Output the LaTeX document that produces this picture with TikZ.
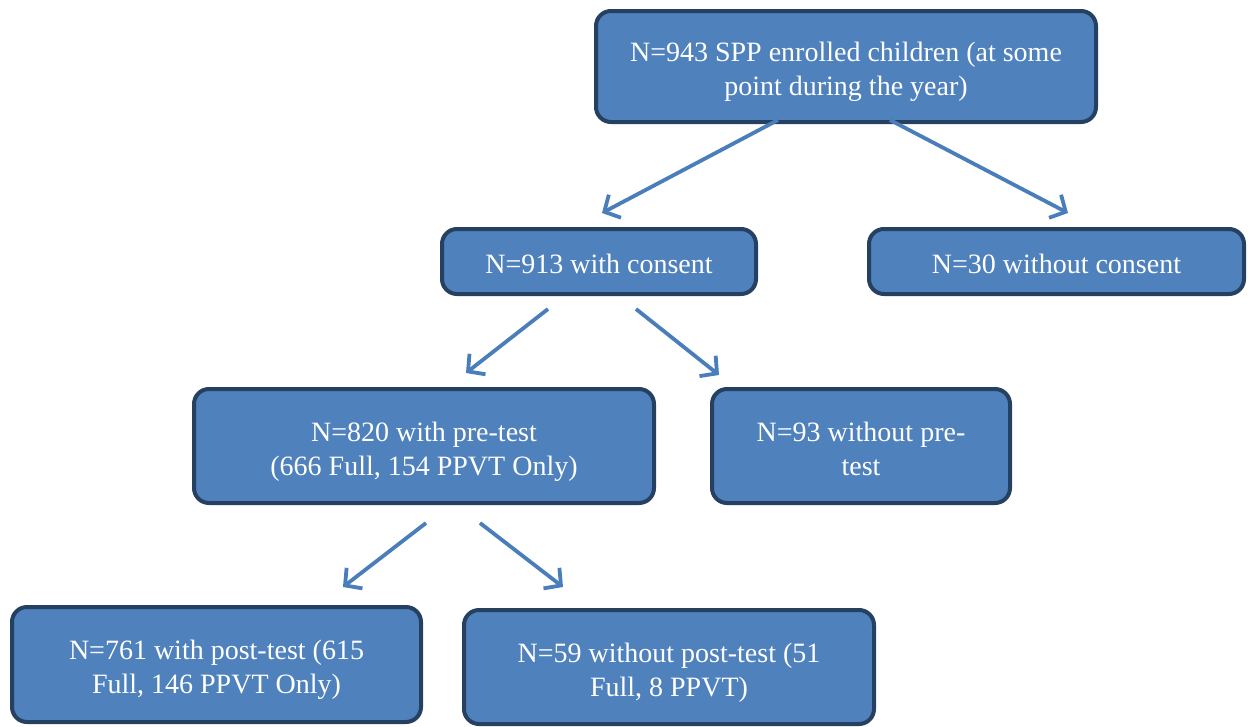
\documentclass[tikz,border=0pt]{standalone}
\usepackage{fontspec}
\setmainfont{Liberation Serif}
\usetikzlibrary{arrows.meta}
\definecolor{boxtop}{RGB}{79,129,189}
\definecolor{boxmid}{RGB}{67,136,191}
\definecolor{boxline}{RGB}{38,64,98}
\definecolor{arrowcol}{RGB}{74,126,187}
\newcommand\myupstrut{\rule{0pt}{32pt}}
\newcommand\mydownstrut{\rule[-8pt]{0pt}{8pt}}
\newcommand\mysinglestrut{\rule{0pt}{24pt}}
\begin{document}
\begin{tikzpicture}[x=1pt,y=-1pt,
  flowbox/.style={draw=boxline, line width=4pt, rounded corners=15pt,
    top color=boxtop, middle color=boxmid, bottom color=boxtop,
    text=white, align=center, inner sep=0pt,
    font=\fontsize{28}{34}\selectfont},
  arr/.style={draw=arrowcol, line width=3.8pt,
    -{Straight Barb[length=12pt,width=26pt,line width=3.8pt]}}]
\useasboundingbox (0,0) rectangle (1248,726);
\node[flowbox, minimum width=500pt, minimum height=111pt] (top) at (846,66.5)
  {\myupstrut N=943 SPP enrolled children (at some\\point during the year)\mydownstrut};
\node[flowbox, minimum width=314pt, minimum height=65pt] (cons) at (599,261.5)
  {\mysinglestrut N=913 with consent};
\node[flowbox, minimum width=375pt, minimum height=65pt] (nocons) at (1056.5,261.5)
  {\mysinglestrut N=30 without consent};
\node[flowbox, minimum width=460pt, minimum height=114pt] (pre) at (424,446)
  {\myupstrut N=820 with pre-test\\(666 Full, 154 PPVT Only)\mydownstrut};
\node[flowbox, minimum width=298pt, minimum height=114pt] (nopre) at (861,446)
  {\myupstrut N=93 without pre-\\test\mydownstrut};
\node[flowbox, minimum width=409pt, minimum height=115pt] (post) at (216.5,664.5)
  {\myupstrut N=761 with post-test (615\\Full, 146 PPVT Only)\mydownstrut};
\node[flowbox, minimum width=410pt, minimum height=114pt] (nopost) at (669,667)
  {\myupstrut N=59 without post-test (51\\Full, 8 PPVT)\mydownstrut};
\coordinate (a1s) at (778,120);
\coordinate (a1e) at (602,213);
\coordinate (a2s) at (890,120);
\coordinate (a2e) at (1068,213);
\coordinate (a3s) at (548,309);
\coordinate (a3e) at (466,373);
\coordinate (a4s) at (636,309);
\coordinate (a4e) at (719,375);
\coordinate (a5s) at (426,523);
\coordinate (a5e) at (343,587);
\coordinate (a6s) at (480,523);
\coordinate (a6e) at (563,587);
\draw[arr] (a1s) -- (a1e);
\draw[arr] (a2s) -- (a2e);
\draw[arr] (a3s) -- (a3e);
\draw[arr] (a4s) -- (a4e);
\draw[arr] (a5s) -- (a5e);
\draw[arr] (a6s) -- (a6e);
\end{tikzpicture}
\end{document}
